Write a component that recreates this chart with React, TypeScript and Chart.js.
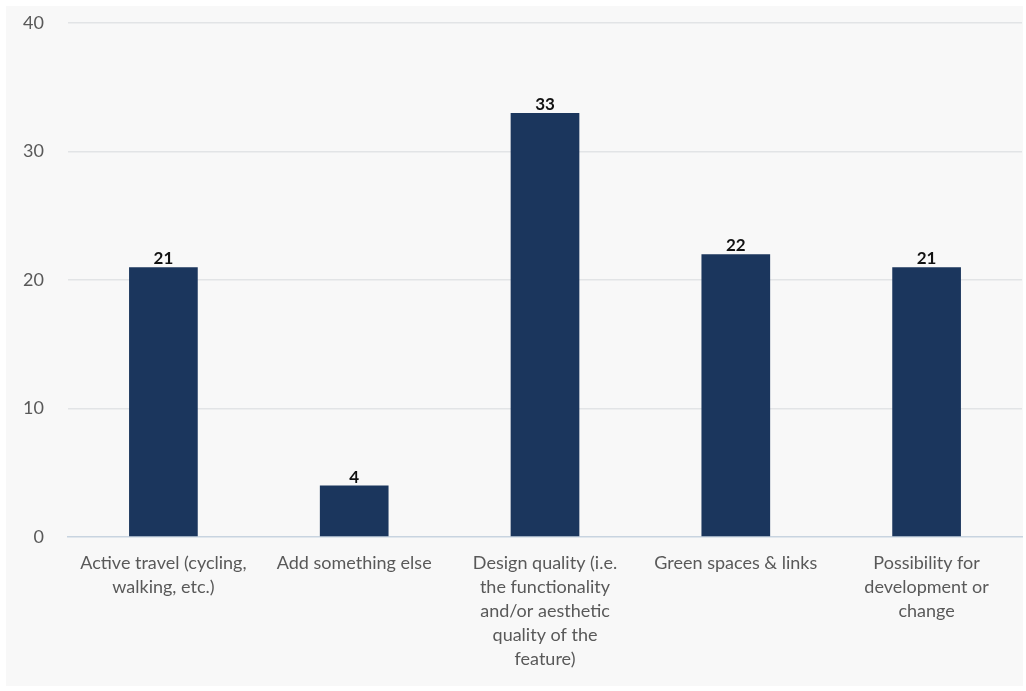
import React, { useEffect, useRef } from "react";
import { Chart, registerables } from "chart.js";

Chart.register(...registerables);

const categories: string[][] = [
  ["Active travel (cycling,", "walking, etc.)"],
  ["Add something else"],
  ["Design quality (i.e.", "the functionality", "and/or aesthetic", "quality of the", "feature)"],
  ["Green spaces & links"],
  ["Possibility for", "development or", "change"],
];
const values: number[] = [21, 4, 33, 22, 21];
const yTicks: number[] = [0, 10, 20, 30, 40];

const FONT = "Lato, 'Noto Sans', sans-serif";

const valueLabels = {
  id: "valueLabels",
  afterDatasetsDraw(chart: any) {
    const ctx = chart.ctx;
    const meta = chart.getDatasetMeta(0);
    ctx.save();
    ctx.font = `bold 17px ${FONT}`;
    ctx.fillStyle = "#111111";
    ctx.textAlign = "center";
    ctx.textBaseline = "alphabetic";
    meta.data.forEach((bar: any, i: number) => {
      ctx.fillText(String(values[i]), bar.x, bar.y - 3);
    });
    ctx.restore();
  },
};

export default function App() {
  const ref = useRef<HTMLCanvasElement>(null);
  useEffect(() => {
    document.body.style.margin = "0";
    const chart = new Chart(ref.current!, {
      type: "bar",
      data: {
        labels: categories,
        datasets: [
          {
            data: values,
            backgroundColor: "#1b365d",
            barPercentage: 0.36,
            categoryPercentage: 1,
          },
        ],
      },
      options: {
        animation: false,
        responsive: false,
        maintainAspectRatio: false,
        layout: { padding: { top: 17, right: 1, left: 0, bottom: 0 } },
        plugins: { legend: { display: false }, tooltip: { enabled: false } },
        scales: {
          x: {
            grid: { display: false, drawTicks: false },
            border: { display: true, color: "#c8d4e0", width: 1.5 },
            ticks: {
              color: "#595959",
              font: { family: FONT, size: 18, lineHeight: 24 / 18 },
              padding: 14,
              maxRotation: 0,
              autoSkip: false,
            },
            afterFit: (s: any) => {
              s.height = 149;
              s.paddingLeft = 0;
              s.paddingRight = 0;
            },
          },
          y: {
            min: 0,
            max: 40,
            afterBuildTicks: (s: any) => {
              s.ticks = yTicks.map((v) => ({ value: v }));
            },
            grid: {
              color: (c: any) => (c.tick && c.tick.value === 0 ? "rgba(0,0,0,0)" : "#e2e4e6"),
              drawTicks: false,
              lineWidth: 1.5,
            },
            border: { display: false },
            ticks: {
              color: "#595959",
              font: { family: FONT, size: 18 },
              padding: 24,
            },
            afterFit: (s: any) => {
              s.width = 62;
              s.paddingTop = 0;
              s.paddingBottom = 0;
            },
          },
        },
      },
      plugins: [valueLabels],
    });
    return () => chart.destroy();
  }, []);
  return (
    <div style={{ width: 1026, height: 691, background: "#ffffff", position: "relative" }}>
      <div style={{ position: "absolute", left: 6, top: 6, width: 1017, height: 680, background: "#f8f8f8" }}>
        <canvas ref={ref} width={1017} height={680} style={{ display: "block" }} />
      </div>
    </div>
  );
}
